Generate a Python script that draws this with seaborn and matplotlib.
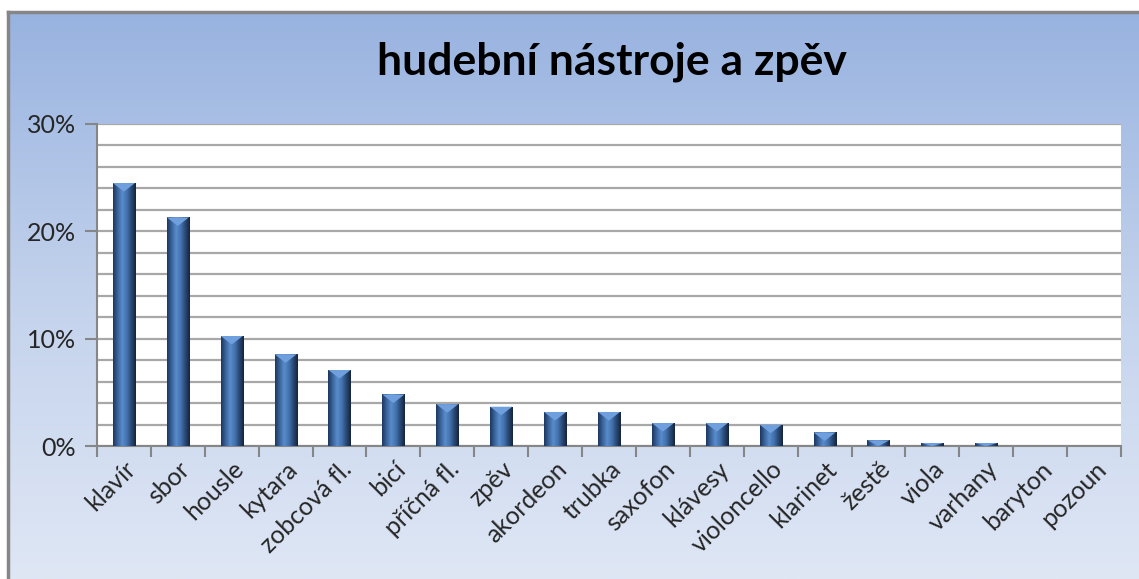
import numpy as np
import matplotlib
matplotlib.use("Agg")
import matplotlib.pyplot as plt
import seaborn as sns
from matplotlib.ticker import MultipleLocator, PercentFormatter
from matplotlib.colors import LinearSegmentedColormap

# data (share of pupils per instrument)
instruments = ["klavír", "sbor", "housle", "kytara", "zobcová fl.", "bicí",
               "příčná fl.", "zpěv", "akordeon", "trubka", "saxofon", "klávesy",
               "violoncello", "klarinet", "žestě", "viola", "varhany",
               "baryton", "pozoun"]
shares = [0.245, 0.213, 0.1025, 0.0855, 0.0708, 0.048,
          0.039, 0.0366, 0.0317, 0.0317, 0.0214, 0.0214,
          0.0199, 0.0127, 0.0053, 0.0028, 0.0028,
          0.0, 0.0]
title = "hudební nástroje a zpěv"

sns.set_theme(style="white")
plt.rcParams["font.family"] = ["Lato", "DejaVu Sans"]

W, H = 1139, 579
fig = plt.figure(figsize=(W / 100, H / 100), dpi=100, facecolor="white")

# chart area with blue vertical gradient and grey border
bg = fig.add_axes([8 / W, 0, 1 - 8 / W, (H - 12) / H], zorder=0)
bg_cmap = LinearSegmentedColormap.from_list("bg", ["#98b3e0", "#c3d2ec", "#dfe7f5"])
bg.imshow(np.linspace(0, 1, 256).reshape(-1, 1), aspect="auto", cmap=bg_cmap,
          extent=[0, 1, 0, 1])
bg.set_xlim(0, 1)
bg.set_ylim(0, 1)
bg.set_xticks([])
bg.set_yticks([])
for side in ["right", "bottom"]:
    bg.spines[side].set_visible(False)
for side in ["left", "top"]:
    bg.spines[side].set_color("#868686")
    bg.spines[side].set_linewidth(2.5)

fig.text(612 / W, (H - 62) / H, title, ha="center", va="center",
         fontsize=32, fontweight="bold", color="black")

# plot area
ax = fig.add_axes([97 / W, (H - 446) / H, (1121 - 97) / W, (446 - 124) / H], zorder=1)
ax.set_facecolor("white")

sns.barplot(x=instruments, y=shares, color="#3c679e", width=0.41,
            saturation=1, linewidth=0, ax=ax, zorder=3)

# bevelled look: horizontal gradient clipped to each bar
bar_cmap = LinearSegmentedColormap.from_list(
    "bar", ["#1d375e", "#3a649c", "#5a8ccb", "#4474b0", "#2a4a77", "#15243c"])
grad = np.linspace(0, 1, 64).reshape(1, -1)
for p in ax.patches:
    x0, y0 = p.get_x(), p.get_y()
    w, h = p.get_width(), p.get_height()
    if h <= 0:
        p.set_visible(False)
        continue
    im = ax.imshow(grad, aspect="auto", cmap=bar_cmap,
                   extent=[x0, x0 + w, y0, y0 + h], zorder=4)
    im.set_clip_path(p)
    # light chevron at the top of the bar
    tip = min(0.008, h)
    ax.fill([x0, x0 + w, x0 + w / 2], [y0 + h, y0 + h, y0 + h - tip],
            color="#6f9fdc", zorder=5, lw=0)

ax.set_xlim(-0.5, len(instruments) - 0.5)
ax.set_ylim(0, 0.30)
ax.yaxis.set_major_locator(MultipleLocator(0.10))
ax.yaxis.set_minor_locator(MultipleLocator(0.02))
ax.yaxis.set_major_formatter(PercentFormatter(1.0, decimals=0))
ax.grid(axis="y", which="both", color="#a8a8a8", linewidth=1.6, zorder=0)
ax.set_axisbelow(True)

ax.set_xticks(range(len(instruments)))
ax.set_xticklabels(instruments, rotation=45, ha="right", rotation_mode="anchor",
                   fontsize=18)
ax.set_xticks(np.arange(-0.5, len(instruments)), minor=True)
ax.tick_params(axis="x", which="major", length=0, pad=8)
ax.tick_params(axis="x", which="minor", length=8, width=1.5, color="#868686",
               direction="out", bottom=True)
ax.tick_params(axis="y", which="major", length=9, width=1.5, color="#868686",
               direction="out", left=True, labelsize=18, pad=6)
ax.tick_params(axis="y", which="minor", length=0)

for side in ["top", "right"]:
    ax.spines[side].set_visible(False)
for side in ["left", "bottom"]:
    ax.spines[side].set_color("#868686")
    ax.spines[side].set_linewidth(1.5)
ax.set_xlabel("")
ax.set_ylabel("")

fig.savefig("out.png", dpi=100, facecolor="white")
